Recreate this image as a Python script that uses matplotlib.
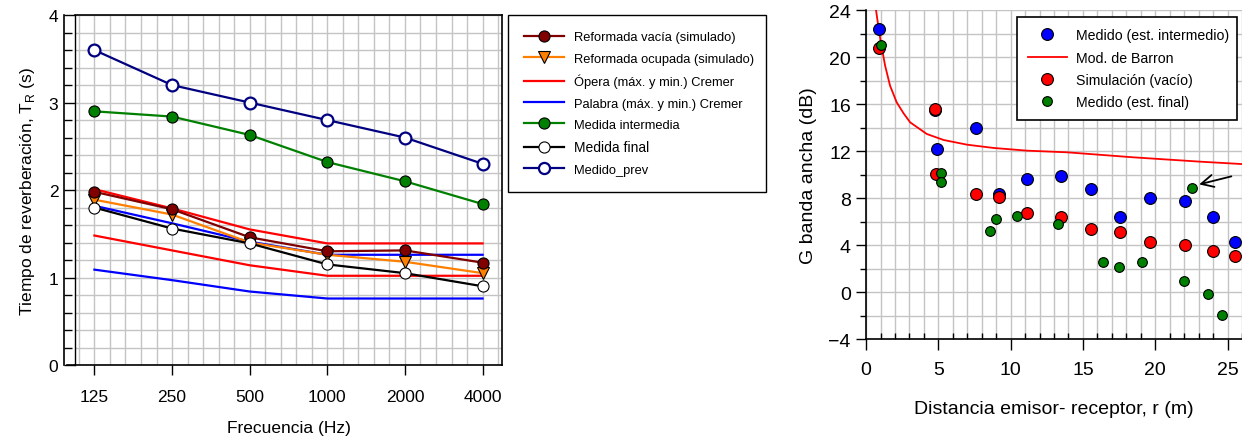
import matplotlib
matplotlib.use('Agg')
import matplotlib.pyplot as plt
from matplotlib.ticker import MultipleLocator
from matplotlib.lines import Line2D

plt.rcParams['font.family'] = ['Liberation Sans', 'DejaVu Sans']

# ---- datos: tiempo de reverberación ----
frecuencias = ['125', '250', '500', '1000', '2000', '4000']
tr_vacia = [1.98, 1.78, 1.46, 1.30, 1.31, 1.17]
tr_ocupada = [1.89, 1.72, 1.40, 1.26, 1.18, 1.05]
opera_max = [2.01, 1.79, 1.55, 1.39, 1.39, 1.39]
opera_min = [1.48, 1.31, 1.14, 1.02, 1.02, 1.02]
palabra_max = [1.82, 1.62, 1.41, 1.26, 1.26, 1.26]
palabra_min = [1.09, 0.97, 0.84, 0.76, 0.76, 0.76]
tr_intermedia = [2.90, 2.84, 2.63, 2.32, 2.10, 1.84]
tr_final = [1.80, 1.56, 1.39, 1.15, 1.05, 0.90]
tr_prev = [3.60, 3.20, 3.00, 2.80, 2.60, 2.30]

# ---- datos: G banda ancha ----
r_inter = [0.92, 4.74, 4.94, 7.58, 9.22, 11.14, 13.45, 15.53, 17.58, 19.64, 22.07, 23.96, 25.55]
g_inter = [22.4, 15.5, 12.2, 14.0, 8.3, 9.65, 9.9, 8.74, 6.41, 8.0, 7.72, 6.38, 4.28]
r_sim = [0.92, 4.78, 4.85, 7.58, 9.22, 11.16, 13.47, 15.53, 17.58, 19.64, 22.07, 23.96, 25.55]
g_sim = [20.77, 15.6, 10.04, 8.31, 8.09, 6.72, 6.41, 5.39, 5.1, 4.23, 4.0, 3.52, 3.09]
r_final = [1.02, 5.15, 5.2, 8.6, 8.99, 10.47, 13.29, 16.36, 17.47, 19.09, 21.97, 22.53, 23.68, 24.65]
g_final = [21.05, 10.16, 9.39, 5.16, 6.21, 6.47, 5.76, 2.58, 2.16, 2.52, 0.91, 8.85, -0.14, -1.93]
r_barron = [0.69, 0.85, 1.02, 1.32, 1.66, 2.12, 2.6, 3.05, 4.2, 5.36, 6.98, 8.82, 11.14, 13.9, 18.52, 23.15, 26.0]
g_barron = [24.0, 22.6, 21.25, 19.26, 17.56, 16.14, 15.2, 14.44, 13.45, 12.94, 12.54, 12.26, 12.03, 11.89, 11.46, 11.09, 10.89]

fig = plt.figure(figsize=(12.42, 4.39), dpi=100)
grid_col = '#c4c4c4'
W, H = 1242, 439

# ================= izquierda =================
ax1 = fig.add_axes([0.0604, 0.1663, 0.3438, 0.797])
x = list(range(len(frecuencias)))

ax1.plot(x, opera_max, color='#ff0000', lw=1.6, zorder=3)
ax1.plot(x, opera_min, color='#ff0000', lw=1.6, zorder=3)
ax1.plot(x, palabra_max, color='#0000ff', lw=1.6, zorder=3)
ax1.plot(x, palabra_min, color='#0000ff', lw=1.6, zorder=3)
ax1.plot(x, tr_prev, color='#000080', lw=1.6, marker='o', ms=8.5,
         mfc='white', mec='#000080', mew=1.6, zorder=4)
ax1.plot(x, tr_intermedia, color='#008000', lw=1.6, marker='o', ms=8,
         mfc='#008000', mec='black', mew=0.8, zorder=4)
ax1.plot(x, tr_final, color='black', lw=1.6, marker='o', ms=8,
         mfc='white', mec='black', mew=0.8, zorder=5)
ax1.plot(x, tr_ocupada, color='#ff8000', lw=1.6, marker='v', ms=8,
         mfc='#ff8000', mec='black', mew=0.8, zorder=4)
ax1.plot(x, tr_vacia, color='#800000', lw=1.6, marker='o', ms=8,
         mfc='#800000', mec='black', mew=0.8, zorder=4)

ax1.set_xlim(-0.25, 5.25)
ax1.set_ylim(0, 4)
ax1.set_xticks(x)
ax1.set_xticklabels(frecuencias)
ax1.xaxis.set_minor_locator(MultipleLocator(0.2))
ax1.yaxis.set_major_locator(MultipleLocator(1))
ax1.yaxis.set_minor_locator(MultipleLocator(0.2))
ax1.grid(True, which='both', color=grid_col, lw=1, zorder=0)
ax1.set_axisbelow(True)
ax1.spines['left'].set_position(('outward', 8))
ax1.plot([0, 0], [0, 1], transform=ax1.transAxes, color='black', lw=1, clip_on=False)
ax1.plot([-0.019, 0], [0, 0], transform=ax1.transAxes, color='black', lw=1.2, clip_on=False)
ax1.tick_params(axis='y', which='major', direction='in', length=8, width=1, labelsize=12.5, pad=4)
ax1.tick_params(axis='y', which='minor', direction='in', length=6, width=1)
ax1.tick_params(axis='x', which='major', direction='out', length=7, width=1, labelsize=12.5, pad=10)
ax1.tick_params(axis='x', which='minor', length=0)
for s in ax1.spines.values():
    s.set_linewidth(1.2)
ax1.set_xlabel('Frecuencia (Hz)', fontsize=12.5, labelpad=12)
ax1.set_ylabel('Tiempo de reverberación, T$_\\mathregular{R}$ (s)', fontsize=12.5, labelpad=8)

handles1 = [
    Line2D([], [], color='#800000', lw=1.6, marker='o', ms=8, mfc='#800000', mec='black', mew=0.8),
    Line2D([], [], color='#ff8000', lw=1.6, marker='v', ms=8, mfc='#ff8000', mec='black', mew=0.8),
    Line2D([], [], color='#ff0000', lw=1.6),
    Line2D([], [], color='#0000ff', lw=1.6),
    Line2D([], [], color='#008000', lw=1.6, marker='o', ms=8, mfc='#008000', mec='black', mew=0.8),
    Line2D([], [], color='black', lw=1.6, marker='o', ms=8, mfc='white', mec='black', mew=0.8),
    Line2D([], [], color='#000080', lw=1.6, marker='o', ms=8, mfc='white', mec='#000080', mew=1.6),
]
labels1 = ['Reformada vacía (simulado)', 'Reformada ocupada (simulado)',
           'Ópera (máx. y min.) Cremer', 'Palabra (máx. y min.) Cremer',
           'Medida intermedia', 'Medida final', 'Medido_prev']
leg1 = fig.legend(handles1, labels1, loc='upper left',
                  bbox_to_anchor=(508 / W, 1 - 189 / H, 258 / W, 173 / H),
                  mode='expand', borderaxespad=0, fancybox=False, edgecolor='black',
                  framealpha=1, handlelength=3.1, handletextpad=0.75,
                  labelspacing=0.72, borderpad=1.25,
                  prop={'size': 9.3})
leg1.get_frame().set_linewidth(1)
leg1.get_texts()[5].set_fontsize(10)

# ================= derecha =================
ax2 = fig.add_axes([0.6973, 0.2255, 0.3027, 0.7494])
ax2.plot(r_barron, g_barron, color='#ff0000', lw=1.3, zorder=3, label='Mod. de Barron')
ax2.plot(r_inter, g_inter, ls='none', marker='o', ms=8.5, mfc='#0000ff', mec='black',
         mew=0.8, zorder=4, label='Medido (est. intermedio)')
ax2.plot(r_sim, g_sim, ls='none', marker='o', ms=8.5, mfc='#ff0000', mec='black',
         mew=0.8, zorder=5, label='Simulación (vacío)')
ax2.plot(r_final, g_final, ls='none', marker='o', ms=7, mfc='#008000', mec='black',
         mew=0.8, zorder=6, label='Medido (est. final)')
ax2.annotate('', xy=(22.85, 9.1), xytext=(25.45, 9.9),
             arrowprops=dict(arrowstyle='->', color='black', lw=1.3,
                             mutation_scale=22), zorder=7)

ax2.set_xlim(0, 26)
ax2.set_ylim(-4, 24)
ax2.xaxis.set_major_locator(MultipleLocator(5))
ax2.xaxis.set_minor_locator(MultipleLocator(1))
ax2.yaxis.set_major_locator(MultipleLocator(4))
ax2.yaxis.set_minor_locator(MultipleLocator(2))
ax2.grid(True, which='both', color=grid_col, lw=1, zorder=0)
ax2.set_axisbelow(True)
ax2.spines['top'].set_visible(False)
ax2.spines['right'].set_visible(False)
for s in ax2.spines.values():
    s.set_linewidth(1.2)
ax2.tick_params(axis='y', which='major', direction='out', length=7, width=1, labelsize=14, pad=4)
ax2.tick_params(axis='y', which='minor', direction='out', length=4, width=1)
ax2.tick_params(axis='x', which='major', direction='out', length=8, width=1, labelsize=14, pad=8)
ax2.tick_params(axis='x', which='minor', direction='in', length=4, width=1)
ax2.set_xlabel('Distancia emisor- receptor, r (m)', fontsize=14, labelpad=16)
ax2.set_ylabel('G banda ancha (dB)', fontsize=14, labelpad=8)

h2, l2 = ax2.get_legend_handles_labels()
order = [1, 0, 2, 3]
leg2 = fig.legend([h2[i] for i in order], [l2[i] for i in order], loc='upper left',
                  bbox_to_anchor=(1017 / W, 1 - 127 / H, 220 / W, 109 / H),
                  mode='expand', borderaxespad=0, fancybox=False, edgecolor='black',
                  framealpha=1, handlelength=2.7, handletextpad=0.7,
                  labelspacing=0.58, borderpad=0.8,
                  prop={'size': 10.2})
leg2.get_frame().set_linewidth(1.2)

fig.savefig('out.png', dpi=100)
